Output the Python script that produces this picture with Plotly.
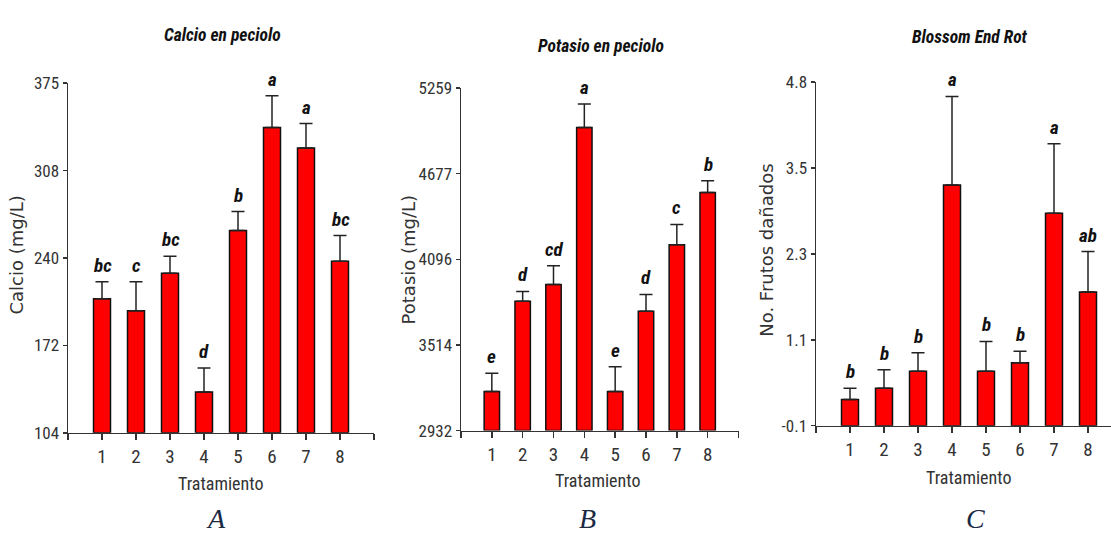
import plotly.graph_objects as go
import numpy as np

W, H = 1111, 541

# ---------------- data ----------------
treatments = ["1", "2", "3", "4", "5", "6", "7", "8"]

calcio_mean = [207.8, 198.6, 227.7, 135.6, 260.8, 340.7, 324.8, 236.9]
calcio_err_top = [221.0, 221.0, 240.9, 154.3, 275.5, 365.2, 343.7, 256.9]
calcio_letters = ["bc", "c", "bc", "d", "b", "a", "a", "bc"]
calcio_ticks = ["104", "172", "240", "308", "375"]

potasio_mean = [3198, 3811, 3924, 4991, 3198, 3743, 4195, 4550]
potasio_err_top = [3321, 3877, 4051, 5150, 3366, 3857, 4332, 4629]
potasio_letters = ["e", "d", "cd", "a", "e", "d", "c", "b"]
potasio_ticks = ["2932", "3514", "4096", "4677", "5259"]

ber_mean = [0.27, 0.43, 0.67, 3.30, 0.67, 0.79, 2.90, 1.79]
ber_err_top = [0.43, 0.69, 0.93, 4.55, 1.09, 0.95, 3.88, 2.36]
ber_letters = ["b", "b", "b", "a", "b", "b", "a", "ab"]
ber_ticks = ["-0.1", "1.1", "2.3", "3.5", "4.8"]

panels = [
    dict(title="Calcio en peciolo", ytitle="Calcio (mg/L)", mean=calcio_mean,
         top=calcio_err_top, letters=calcio_letters, ticks=calcio_ticks,
         yr=(104, 375), tag="A"),
    dict(title="Potasio en peciolo", ytitle="Potasio (mg/L)", mean=potasio_mean,
         top=potasio_err_top, letters=potasio_letters, ticks=potasio_ticks,
         yr=(2932, 5259), tag="B"),
    dict(title="Blossom End Rot", ytitle="No. Frutos dañados", mean=ber_mean,
         top=ber_err_top, letters=ber_letters, ticks=ber_ticks,
         yr=(-0.1, 4.75), tag="C"),
]

# ---------------- layout geometry (pixels) ----------------
geom = [
    dict(x0=68, x1=374, y0=76, y1=439, xmax=9,
         title=(222, 26), ytitle=(17, 255), xtitle=(220, 492), tag=(216, 528)),
    dict(x0=461, x1=738.5, y0=81, y1=436.7, xmax=9,
         title=(601, 37), ytitle=(408, 259), xtitle=(597, 489), tag=(587, 528)),
    dict(x0=816, x1=1111, y0=75, y1=431.7, xmax=(1111 - 816) / 34.0,
         title=(970, 28), ytitle=(767, 250), xtitle=(968, 485), tag=(975, 528)),
]

def px(x):
    return x / W

def py(y):
    return 1 - y / H

NARROW = "Roboto Condensed, Liberation Sans Narrow, DejaVu Sans Condensed, sans-serif"
WIDE = "DejaVu Sans, Verdana, sans-serif"
AX = "#333333"

fig = go.Figure()
annotations = []
xcats = list(range(1, len(treatments) + 1))

for i, (p, g) in enumerate(zip(panels, geom)):
    sfx = "" if i == 0 else str(i + 1)
    base = p["yr"][0]
    mean = np.array(p["mean"], dtype=float)
    top = np.array(p["top"], dtype=float)
    fig.add_trace(go.Bar(
        x=xcats, y=mean - base, base=base, width=0.5,
        marker=dict(color="#ff0000", line=dict(color="#111111", width=1.5)),
        error_y=dict(type="data", symmetric=False, array=top - mean,
                     arrayminus=np.zeros(len(mean)), color="#222222",
                     thickness=1.5, width=6.5),
        xaxis="x" + sfx, yaxis="y" + sfx, showlegend=False, hoverinfo="skip",
    ))
    tv = list(np.linspace(p["yr"][0], p["yr"][1], len(p["ticks"])))
    fig.layout["xaxis" + sfx] = dict(
        domain=[px(g["x0"]), px(g["x1"])], range=[0, g["xmax"]],
        anchor="y" + sfx, showline=True, linecolor=AX, linewidth=1.5,
        ticks="outside", ticklen=6, tickwidth=1.5, tickcolor=AX,
        tickvals=list(range(0, 10)), ticktext=[""] + treatments + [""],
        tickfont=dict(family=NARROW, size=19, color="#333333"),
        showgrid=False, zeroline=False, fixedrange=True,
    )
    fig.layout["yaxis" + sfx] = dict(
        domain=[py(g["y1"]), py(g["y0"])], range=list(p["yr"]),
        anchor="x" + sfx, showline=True, linecolor=AX, linewidth=1.5,
        ticks="outside", ticklen=4, tickwidth=1.5, tickcolor=AX,
        tickvals=tv, ticktext=p["ticks"],
        tickfont=dict(family=NARROW, size=17, color="#333333"),
        showgrid=False, zeroline=False, fixedrange=True,
    )
    # significance letters
    for xc, t, lt in zip(xcats, top, p["letters"]):
        annotations.append(dict(
            x=xc, y=t, xref="x" + sfx, yref="y" + sfx, text="<b><i>%s</i></b>" % lt,
            showarrow=False, yanchor="bottom", yshift=3,
            font=dict(family=NARROW, size=19, color="#111111"),
        ))
    # titles
    annotations.append(dict(
        x=px(g["title"][0]), y=py(g["title"][1]), xref="paper", yref="paper",
        text="<b><i>%s</i></b>" % p["title"], showarrow=False,
        xanchor="center", yanchor="middle",
        font=dict(family=NARROW, size=17.5, color="#111111")))
    annotations.append(dict(
        x=px(g["ytitle"][0]), y=py(g["ytitle"][1]), xref="paper", yref="paper",
        text=p["ytitle"], showarrow=False, textangle=-90,
        xanchor="center", yanchor="middle",
        font=dict(family=WIDE, size=18, color="#333333")))
    annotations.append(dict(
        x=px(g["xtitle"][0]), y=py(g["xtitle"][1]), xref="paper", yref="paper",
        text="Tratamiento", showarrow=False, xanchor="center", yanchor="middle",
        font=dict(family=NARROW, size=18, color="#333333")))
    annotations.append(dict(
        x=px(g["tag"][0]), y=py(g["tag"][1]), xref="paper", yref="paper",
        text="<i>%s</i>" % p["tag"], showarrow=False, xanchor="center", yanchor="middle",
        font=dict(family="Liberation Serif, Times New Roman, serif", size=28, color="#1b2a45")))

fig.update_layout(
    width=W, height=H, margin=dict(l=0, r=0, t=0, b=0),
    paper_bgcolor="white", plot_bgcolor="white",
    annotations=annotations, bargap=0.5,
)

fig.write_html("out.html", config={"displayModeBar": False, "staticPlot": True},
               post_script="document.body.style.margin='0px';")
